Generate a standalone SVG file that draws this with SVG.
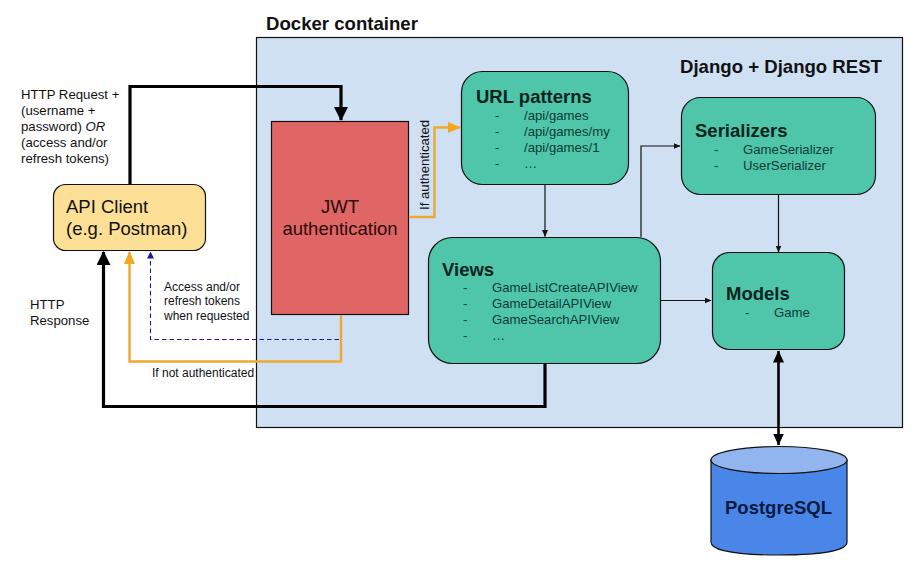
<svg xmlns="http://www.w3.org/2000/svg" width="916" height="569" viewBox="0 0 916 569">
<style>
text{font-family:"Liberation Sans",Arial,sans-serif;fill:#111}
.box{stroke:#111;stroke-width:1.2}
.green{fill:#4fc6aa}
.s{font-size:13.2px}
.n{font-size:12px}
.m{font-size:13.2px;fill:#0d3b33}
.h{font-size:18.5px;font-weight:bold;fill:#06231d}
.t{font-size:18.6px;font-weight:bold}
.c{fill:none}
.thin{stroke:#111;stroke-width:1.2}
.bold{stroke:#000;stroke-width:3.2}
.dbl{stroke:#000;stroke-width:2.6}
.org{stroke:#f0a92e;stroke-width:2.4}
</style>
<defs>
<marker id="aT" markerUnits="userSpaceOnUse" markerWidth="7" markerHeight="6" refX="6.500" refY="3" orient="auto"><path d="M0 0L7 3L0 6Z" fill="#111"/></marker>
<marker id="aB" markerUnits="userSpaceOnUse" markerWidth="14" markerHeight="14" refX="13" refY="7" orient="auto"><path d="M0 0L14 7L0 14Z" fill="#000"/></marker>
<marker id="aW" markerUnits="userSpaceOnUse" markerWidth="12" markerHeight="11" refX="11.500" refY="5.500" orient="auto-start-reverse"><path d="M0 0L12 5.500L0 11Z" fill="#000"/></marker>
<marker id="aO" markerUnits="userSpaceOnUse" markerWidth="13" markerHeight="11" refX="12" refY="5.500" orient="auto"><path d="M0 0L13 5.500L0 11Z" fill="#f5a623"/></marker>
<marker id="aD" markerUnits="userSpaceOnUse" markerWidth="7" markerHeight="7" refX="6.500" refY="3.500" orient="auto"><path d="M0 0L7 3.500L0 7Z" fill="#1a1a9c"/></marker>
</defs>

<g id="docker-container">
<rect x="256.500" y="37.500" width="646" height="390" fill="#cfe0f3" stroke="#111" stroke-width="1.200"/>
<text class="t" x="266" y="30">Docker container</text>
<text class="t" x="680" y="72.500">Django + Django REST</text>
</g>

<g id="api-client">
<rect class="box" x="53.500" y="184.500" width="152" height="66" rx="12" fill="#fde096"/>
<text x="66" y="213" font-size="18.500">API Client</text>
<text x="66" y="235" font-size="18.500">(e.g. Postman)</text>
</g>

<g id="jwt">
<rect class="box" x="271.500" y="121.500" width="137" height="193" fill="#e06666"/>
<text x="340" y="213" font-size="18.500" text-anchor="middle" style="fill:#2a0a0a">JWT</text>
<text x="340" y="235" font-size="18.500" text-anchor="middle" style="fill:#2a0a0a">authentication</text>
</g>

<g id="url-patterns">
<rect class="box green" x="461.500" y="71.500" width="167" height="113" rx="21"/>
<text class="h" x="476" y="103">URL patterns</text>
<text class="m" x="495" y="120">-</text><text class="m" x="524" y="120">/api/games</text>
<text class="m" x="495" y="136">-</text><text class="m" x="524" y="136">/api/games/my</text>
<text class="m" x="495" y="152">-</text><text class="m" x="524" y="152">/api/games/1</text>
<text class="m" x="495" y="168">-</text><text class="m" x="524" y="168">…</text>
</g>

<g id="serializers">
<rect class="box green" x="681.500" y="97.500" width="194" height="97" rx="19"/>
<text class="h" x="695" y="137">Serializers</text>
<text class="m" x="714" y="154">-</text><text class="m" x="743" y="154">GameSerializer</text>
<text class="m" x="714" y="170">-</text><text class="m" x="743" y="170">UserSerializer</text>
</g>

<g id="views">
<rect class="box green" x="428.500" y="237.500" width="232" height="126" rx="24"/>
<text class="h" x="442" y="276">Views</text>
<text class="m" x="463" y="292">-</text><text class="m" x="492" y="292">GameListCreateAPIView</text>
<text class="m" x="463" y="308">-</text><text class="m" x="492" y="308">GameDetailAPIView</text>
<text class="m" x="463" y="324">-</text><text class="m" x="492" y="324">GameSearchAPIView</text>
<text class="m" x="463" y="340">-</text><text class="m" x="492" y="340">…</text>
</g>

<g id="models">
<rect class="box green" x="712.500" y="252.500" width="132" height="97" rx="17"/>
<text class="h" x="726" y="300">Models</text>
<text class="m" x="745" y="317">-</text><text class="m" x="774" y="317">Game</text>
</g>

<g id="postgresql">
<path d="M711 460V542C711 549 729 555 779 555C829 555 847 549 847 542V460Z" fill="#4a86e8" stroke="#111" stroke-width="1.200"/>
<ellipse cx="779" cy="460" rx="68" ry="13.500" fill="#92b5ef" stroke="#111" stroke-width="1.200"/>
<text x="778.500" y="514" font-size="18.500" font-weight="bold" text-anchor="middle" style="fill:#071a40">PostgreSQL</text>
</g>

<g id="connectors" class="c">
<path class="bold" d="M130 184V86.500H341V120" marker-end="url(#aB)"/>
<path class="bold" d="M545 363V406.500H103.500V252" marker-end="url(#aB)"/>
<path class="org" d="M341 315V361.500H129.500V252" marker-end="url(#aO)"/>
<path d="M339 339.500H150.500V252" stroke="#1a1a9c" stroke-width="1.100" stroke-dasharray="4.500 3" marker-end="url(#aD)"/>
<path class="org" d="M409 217H434.500V127.500H460" marker-end="url(#aO)"/>
<path class="thin" d="M545 184.500V236.500" marker-end="url(#aT)"/>
<path class="thin" d="M641 237V146H680" marker-end="url(#aT)"/>
<path class="thin" d="M660.500 300.500H711" marker-end="url(#aT)"/>
<path class="thin" d="M778.500 194.500V252" marker-end="url(#aT)"/>
<path class="dbl" d="M778.500 351V445" marker-start="url(#aW)" marker-end="url(#aW)"/>
</g>

<g id="labels">
<text class="s" x="21" y="99">HTTP Request +</text>
<text class="s" x="21" y="115">(username +</text>
<text class="s" x="21" y="131">password) <tspan font-style="italic">OR</tspan></text>
<text class="s" x="21" y="147">(access and/or</text>
<text class="s" x="21" y="163">refresh tokens)</text>
<text class="s" x="30" y="309">HTTP</text>
<text class="s" x="30" y="325">Response</text>
<text class="n" x="164" y="291">Access and/or</text>
<text class="n" x="164" y="305">refresh tokens</text>
<text class="n" x="164" y="320">when requested</text>
<text class="n" x="152" y="377">If not authenticated</text>
<text class="s" transform="translate(428.500 210) rotate(-90)">If authenticated</text>
</g>
</svg>
